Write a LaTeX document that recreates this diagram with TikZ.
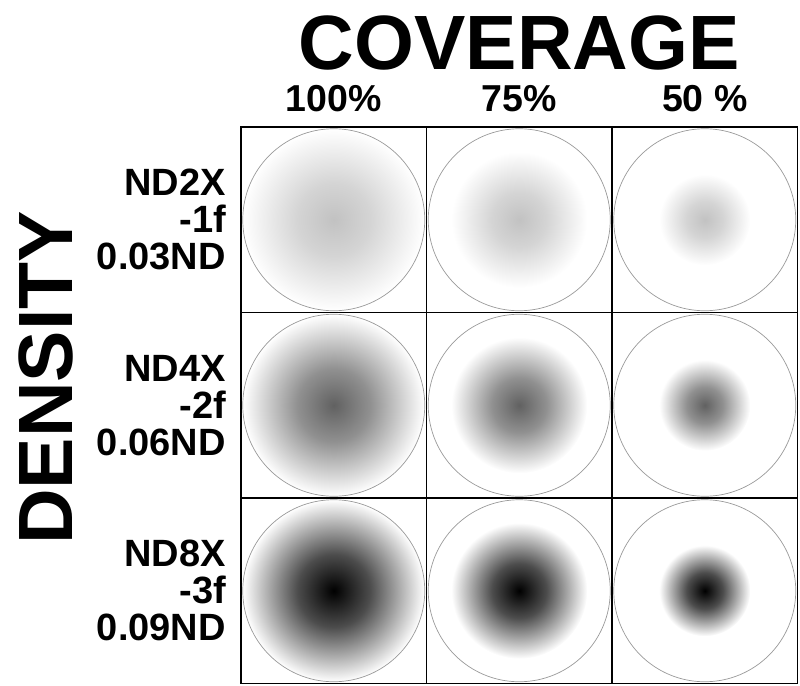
\documentclass[tikz,border=0pt]{standalone}
\usepackage{fontspec}
\setmainfont{Liberation Sans}
\usepackage{tikz}
\usetikzlibrary{calc}

\colorlet{dcol}{black}
\pgfdeclareradialshading[dcol]{spot}{\pgfpointorigin}{color(0bp)=(dcol); color(10bp)=(dcol!70!white); color(25bp)=(white); color(50bp)=(white)}

\begin{document}
\begin{tikzpicture}[x=1pt,y=-1pt,
    cell/.style={draw, line width=1.5pt, minimum size=185.5pt, inner sep=0pt, outer sep=0pt},
    ring/.style={draw=black!40, line width=0.7pt},
    title/.style={font=\fontsize{77}{77}\selectfont\bfseries, inner sep=0pt, text depth=0pt},
    pct/.style={font=\fontsize{37.5}{37.5}\selectfont\bfseries, inner sep=0pt, text height=27pt},
    rowlab/.style={font=\fontsize{38}{37}\selectfont\bfseries, align=right, inner sep=0pt}]
    \useasboundingbox (0,0) rectangle (800,685);
    % grid of cells
    \node[cell] (c11) at (333.75,219.75) {};
    \node[cell] (c12) at (519.25,219.75) {};
    \node[cell] (c13) at (704.75,219.75) {};
    \node[cell] (c21) at (333.75,405.25) {};
    \node[cell] (c22) at (519.25,405.25) {};
    \node[cell] (c23) at (704.75,405.25) {};
    \node[cell] (c31) at (333.75,590.75) {};
    \node[cell] (c32) at (519.25,590.75) {};
    \node[cell] (c33) at (704.75,590.75) {};
    % spots
    \colorlet{dcol}{black!24}
    \shade[shading=spot] (c11.center) circle (91);
    \shade[shading=spot] (c12.center) circle (68);
    \shade[shading=spot] (c13.center) circle (45.5);
    \colorlet{dcol}{black!62}
    \shade[shading=spot] (c21.center) circle (91);
    \shade[shading=spot] (c22.center) circle (68);
    \shade[shading=spot] (c23.center) circle (45.5);
    \colorlet{dcol}{black}
    \shade[shading=spot] (c31.center) circle (91);
    \shade[shading=spot] (c32.center) circle (68);
    \shade[shading=spot] (c33.center) circle (45.5);
    % rings
    \draw[ring] (c11.center) circle (91);
    \draw[ring] (c12.center) circle (91);
    \draw[ring] (c13.center) circle (91);
    \draw[ring] (c21.center) circle (91);
    \draw[ring] (c22.center) circle (91);
    \draw[ring] (c23.center) circle (91);
    \draw[ring] (c31.center) circle (91);
    \draw[ring] (c32.center) circle (91);
    \draw[ring] (c33.center) circle (91);
    % headings
    \node[title, anchor=base] (cov) at ([yshift=57pt]c12.north) {COVERAGE};
    \node[pct, anchor=base] (p100) at ([yshift=16pt]c11.north) {100\%};
    \node[pct, anchor=base] (p75) at ([yshift=16pt]c12.north) {75\%};
    \node[pct, anchor=base] (p50) at ([yshift=16pt]c13.north) {50 \%};
    \node[title, rotate=90, anchor=base] (dens) at (72,378) {DENSITY};
    \node[rowlab, anchor=east] (nd2) at ([xshift=-15pt]c11.west) {ND2X\\-1f\\0.03ND};
    \node[rowlab, anchor=east] (nd4) at ([xshift=-15pt]c21.west) {ND4X\\-2f\\0.06ND};
    \node[rowlab, anchor=east] (nd8) at ([xshift=-15pt]c31.west) {ND8X\\-3f\\0.09ND};
\end{tikzpicture}
\end{document}
